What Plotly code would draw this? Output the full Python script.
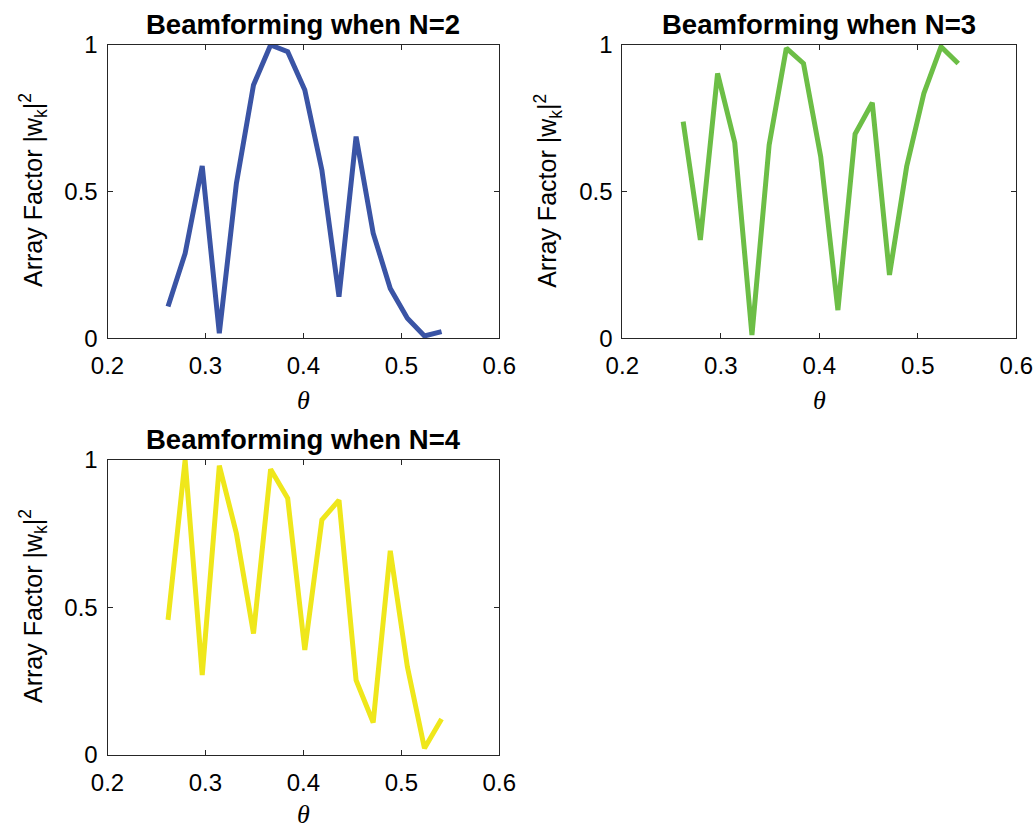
import numpy as np
import plotly.graph_objects as go

# Steering angles: 15..31 degrees in radians
theta_deg = list(range(15, 32))
theta = [d * np.pi / 180 for d in theta_deg]

# Normalised array factor for each array size
af_n2 = [0.108, 0.289, 0.587, 0.017, 0.528, 0.863, 0.999, 0.976, 0.846,
         0.573, 0.142, 0.687, 0.358, 0.170, 0.068, 0.008, 0.023]
af_n3 = [0.738, 0.335, 0.902, 0.666, 0.011, 0.658, 0.988, 0.936, 0.619,
         0.096, 0.696, 0.802, 0.216, 0.585, 0.834, 0.993, 0.936]
af_n4 = [0.458, 1.000, 0.271, 0.981, 0.751, 0.412, 0.969, 0.870, 0.356,
         0.797, 0.864, 0.254, 0.110, 0.692, 0.299, 0.023, 0.122]

titles = ["Beamforming when N=2", "Beamforming when N=3", "Beamforming when N=4"]
colors = ["#3a54a5", "#6cbe46", "#efe71b"]
x_ticks = [0.2, 0.3, 0.4, 0.5, 0.6]
x_ticktext = ["0.2", "0.3", "0.4", "0.5", "0.6"]
y_ticks = [0, 0.5, 1]
y_ticktext = ["0", "0.5", "1"]

W, H = 1035, 831
# axes boxes in pixels: (left, right, top, bottom)
boxes = [(107.5, 499.3, 44.7, 338.3),
         (622.3, 1016.3, 44.7, 338.3),
         (107.5, 499.3, 460.0, 755.0)]

fig = go.Figure()
series = [af_n2, af_n3, af_n4]
tick_font = dict(family="Liberation Sans, Arial, sans-serif", size=24, color="#000000")

annotations = []
for i, (ys, col, box, ttl) in enumerate(zip(series, colors, boxes, titles)):
    sfx = "" if i == 0 else str(i + 1)
    fig.add_trace(go.Scatter(x=theta, y=ys, mode="lines",
                             line=dict(color=col, width=5),
                             xaxis="x" + sfx, yaxis="y" + sfx,
                             showlegend=False, hoverinfo="skip"))
    l, r, t, b = box
    xd = [l / W, r / W]
    yd = [1 - b / H, 1 - t / H]
    axis_common = dict(showline=True, linecolor="#262626", linewidth=1,
                       mirror="ticks", ticks="inside", ticklen=5,
                       tickcolor="#262626", tickwidth=1, showgrid=False,
                       zeroline=False, tickfont=tick_font, fixedrange=True,
                       automargin=False)
    fig.update_layout(**{
        "xaxis" + sfx: dict(domain=xd, range=[0.2, 0.6], tickvals=x_ticks,
                            ticktext=x_ticktext, anchor="y" + sfx,
                            ticklabelstandoff=6, **axis_common),
        "yaxis" + sfx: dict(domain=yd, range=[0, 1], tickvals=y_ticks,
                            ticktext=y_ticktext, anchor="x" + sfx,
                            ticklabelstandoff=4, **axis_common),
    })
    cx = (l + r) / 2
    # title
    annotations.append(dict(text="<b>" + ttl + "</b>", x=cx / W, y=1 - (t - 20.5) / H,
                            xref="paper", yref="paper", showarrow=False,
                            xanchor="center", yanchor="middle",
                            font=dict(family="Liberation Sans, Arial, sans-serif",
                                      size=27.5, color="#000000")))
    # x label
    annotations.append(dict(text="<i>θ</i>", x=cx / W,
                            y=max(0.0, 1 - (b + 79) / H),
                            xref="paper", yref="paper", showarrow=False,
                            xanchor="center", yanchor="bottom",
                            font=dict(family="Liberation Serif, Times New Roman, serif",
                                      size=26, color="#000000")))
    # y label
    annotations.append(dict(text="Array Factor |w<sub>k</sub>|<sup>2</sup>",
                            x=(l - 75) / W, y=1 - ((t + b) / 2 - 1) / H,
                            xref="paper", yref="paper", showarrow=False,
                            xanchor="center", yanchor="middle", textangle=-90,
                            font=dict(family="Liberation Sans, Arial, sans-serif",
                                      size=25, color="#000000")))

fig.update_layout(width=W, height=H, margin=dict(l=0, r=0, t=0, b=0),
                  paper_bgcolor="white", plot_bgcolor="white",
                  annotations=annotations)

fig.write_html("out.html")
